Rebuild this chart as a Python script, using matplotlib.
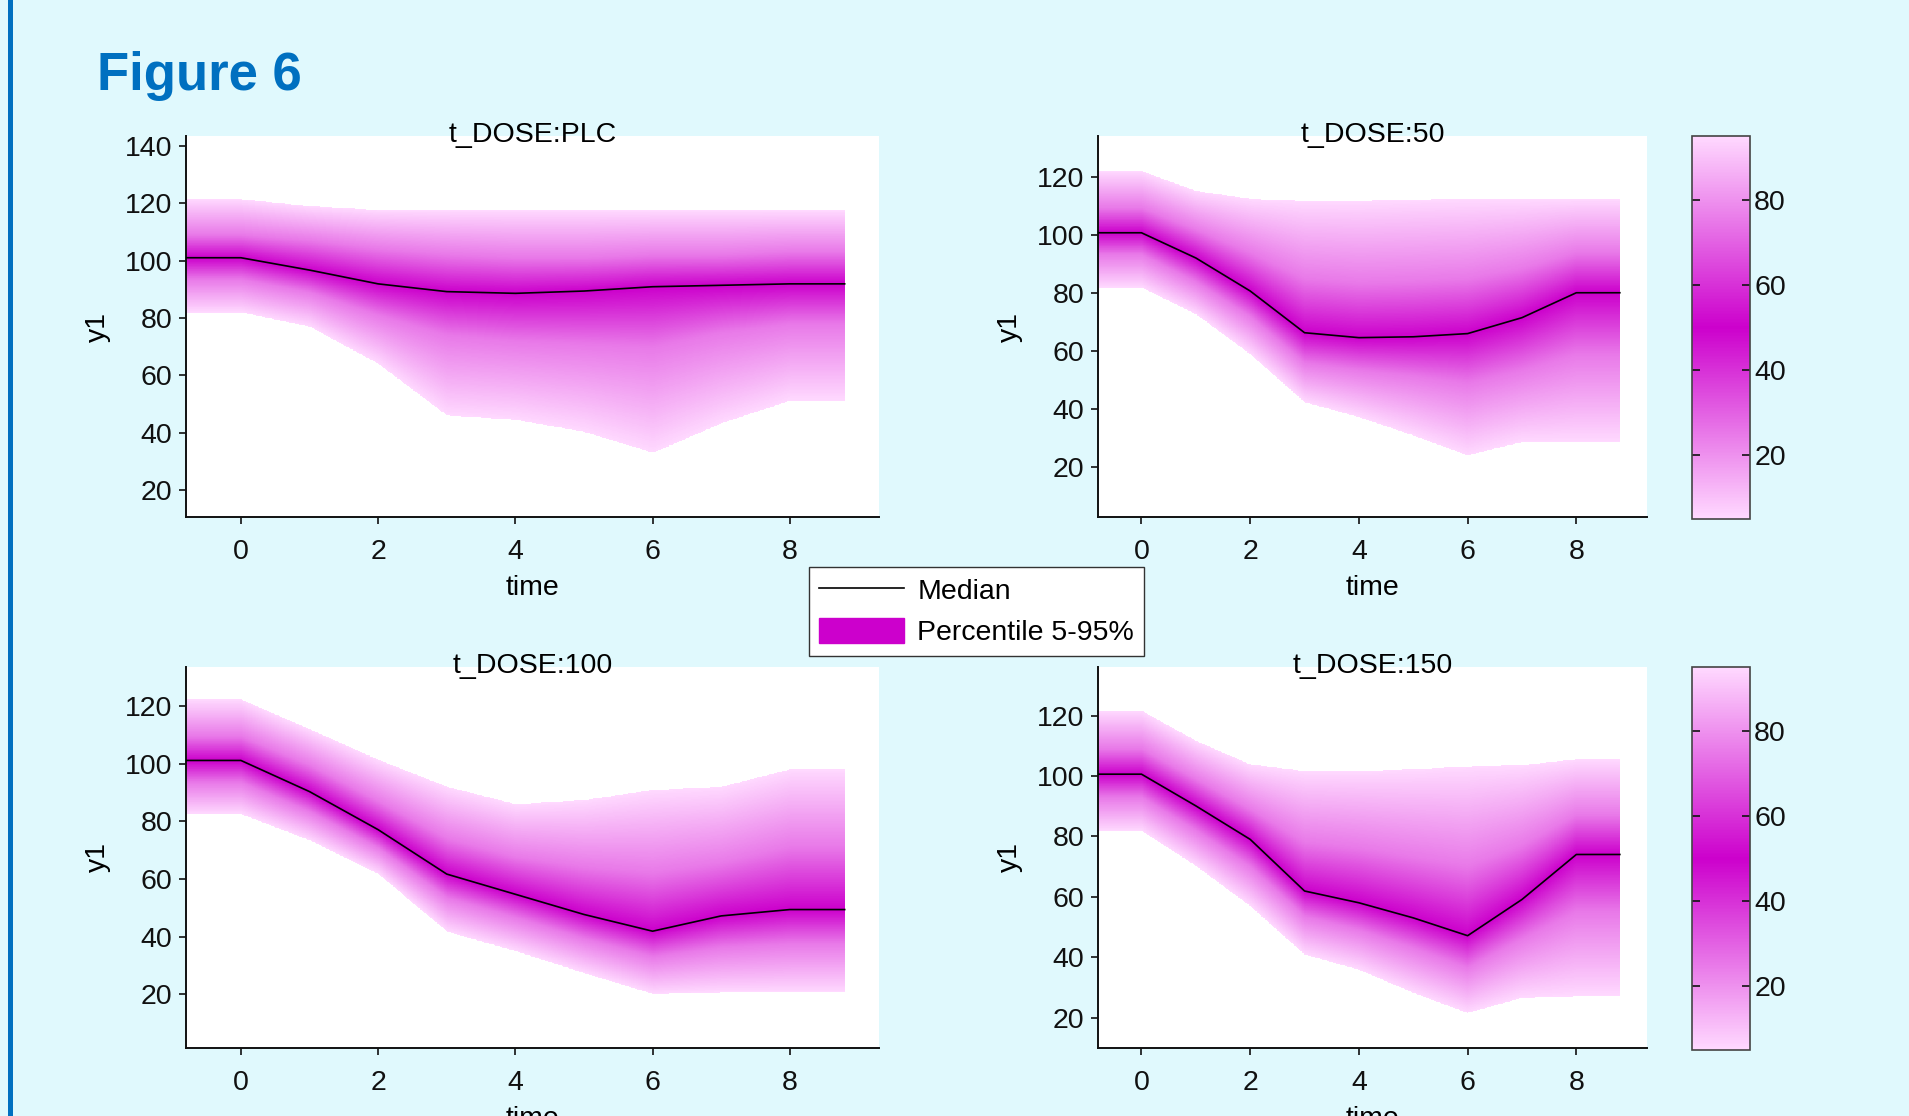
import numpy as np
import matplotlib
matplotlib.use('Agg')
import matplotlib.pyplot as plt
from matplotlib.colors import LinearSegmentedColormap, Normalize
from matplotlib.cm import ScalarMappable
from matplotlib.lines import Line2D
from matplotlib.patches import Patch

plt.rcParams['font.family'] = ['Liberation Sans', 'DejaVu Sans']

BG = '#E0F9FD'
BLUE = '#0070C0'
MAGENTA = '#CC00CC'
LIGHT = '#FFD9FF'
FS = 20.5

# percentile levels shown in the colour scale
levels = [5, 25, 50, 75, 95]
time = [-0.8, 0, 1, 2, 3, 4, 5, 6, 7, 8, 8.8]

titles = ['t_DOSE:PLC', 't_DOSE:50', 't_DOSE:100', 't_DOSE:150']

plc_p95 = [121.5, 121.5, 119.0, 117.7, 117.7, 117.7, 117.7, 117.7, 117.7, 117.7, 117.7]
plc_p75 = [109.0, 109.0, 107.0, 104.0, 102.0, 101.0, 101.0, 102.0, 102.0, 103.0, 103.0]
plc_p50 = [101.0, 101.0, 96.7, 91.9, 89.2, 88.6, 89.4, 90.9, 91.4, 91.9, 91.9]
plc_p25 = [93.5, 93.5, 89.0, 81.0, 74.0, 72.0, 71.0, 70.0, 75.0, 78.0, 78.0]
plc_p5 = [82.0, 82.0, 77.0, 64.0, 46.0, 44.5, 40.3, 33.0, 43.3, 51.2, 51.2]

d50_p95 = [122.3, 122.3, 115.4, 112.7, 112.0, 112.0, 112.5, 112.7, 112.7, 112.7, 112.7]
d50_p75 = [109.5, 109.5, 102.0, 94.0, 85.0, 83.5, 84.0, 85.0, 88.5, 94.0, 94.0]
d50_p50 = [100.9, 100.9, 92.2, 80.8, 66.4, 64.7, 65.0, 66.1, 71.6, 80.2, 80.2]
d50_p25 = [93.5, 93.5, 84.0, 72.0, 56.0, 53.5, 51.5, 49.0, 53.5, 59.0, 59.0]
d50_p5 = [82.0, 82.0, 72.8, 59.0, 42.4, 37.2, 30.9, 24.0, 28.6, 28.6, 28.6]

d100_p95 = [122.3, 122.3, 112.0, 101.4, 92.0, 86.0, 87.4, 90.9, 92.0, 98.1, 98.1]
d100_p75 = [109.5, 109.5, 99.5, 87.0, 74.0, 67.5, 64.0, 62.0, 65.5, 71.0, 71.0]
d100_p50 = [101.1, 101.1, 90.3, 77.1, 61.7, 54.7, 47.7, 41.9, 47.2, 49.4, 49.4]
d100_p25 = [93.5, 93.5, 83.4, 70.8, 53.5, 46.6, 39.3, 33.0, 36.3, 37.6, 37.6]
d100_p5 = [82.5, 82.5, 73.4, 61.7, 41.7, 34.9, 27.3, 20.0, 20.6, 20.6, 20.6]

d150_p95 = [121.7, 121.7, 111.7, 103.9, 101.7, 101.7, 102.3, 103.2, 103.6, 105.6, 105.6]
d150_p75 = [109.0, 109.0, 99.0, 89.0, 78.0, 76.0, 73.0, 70.0, 77.0, 87.0, 87.0]
d150_p50 = [100.6, 100.6, 90.1, 79.0, 61.9, 58.0, 53.0, 47.1, 59.1, 74.0, 74.0]
d150_p25 = [93.0, 93.0, 82.0, 70.0, 53.5, 49.0, 43.0, 36.5, 46.0, 55.0, 55.0]
d150_p5 = [81.8, 81.8, 70.2, 56.9, 40.8, 35.8, 28.1, 21.4, 26.4, 27.0, 27.0]

curves = [
    [plc_p5, plc_p25, plc_p50, plc_p75, plc_p95],
    [d50_p5, d50_p25, d50_p50, d50_p75, d50_p95],
    [d100_p5, d100_p25, d100_p50, d100_p75, d100_p95],
    [d150_p5, d150_p25, d150_p50, d150_p75, d150_p95],
]
ylims = [(10.7, 143.4), (2.8, 134.3), (1.4, 133.5), (9.9, 136.1)]
yticks = [range(20, 141, 20), range(20, 121, 20), range(20, 121, 20), range(20, 121, 20)]
XLIM = (-0.8, 9.3)

cmap = LinearSegmentedColormap.from_list('pct', [LIGHT, MAGENTA, LIGHT])
cmap.set_bad((1, 1, 1, 0))
norm = Normalize(vmin=5, vmax=95)


def draw_band(ax, crv, ylim):
    xs = np.linspace(XLIM[0], XLIM[1], 900)
    ys = np.linspace(ylim[0], ylim[1], 600)
    img = np.full((len(ys), len(xs)), np.nan)
    for j, x in enumerate(xs):
        if x < time[0] or x > time[-1]:
            continue
        q = [np.interp(x, time, c) for c in crv]
        inside = (ys >= q[0]) & (ys <= q[-1])
        img[inside, j] = np.interp(ys[inside], q, levels)
    ax.imshow(img, extent=(XLIM[0], XLIM[1], ylim[0], ylim[1]), origin='lower',
              aspect='auto', cmap=cmap, norm=norm, interpolation='nearest', zorder=1)


W, H = 1909, 1116
fig = plt.figure(figsize=(W / 100, H / 100), dpi=100, facecolor=BG)

# axes boxes in pixels: left, top, right, bottom
boxes = [(186, 136, 879, 517), (1098, 136, 1647, 517),
         (186, 667, 879, 1048), (1098, 667, 1647, 1048)]

for i, (l, t, r, b) in enumerate(boxes):
    ax = fig.add_axes([l / W, 1 - b / H, (r - l) / W, (b - t) / H])
    ax.set_facecolor('white')
    draw_band(ax, curves[i], ylims[i])
    ax.plot(time, curves[i][2], color='black', lw=1.2, zorder=3)
    ax.set_xlim(XLIM)
    ax.set_ylim(ylims[i])
    ax.set_xticks([0, 2, 4, 6, 8])
    ax.set_yticks(list(yticks[i]))
    for s in ['top', 'right']:
        ax.spines[s].set_visible(False)
    for s in ['left', 'bottom']:
        ax.spines[s].set_linewidth(1.4)
        ax.spines[s].set_color('#111111')
    ax.tick_params(axis='x', labelsize=FS, length=5, width=1.2, pad=11, colors='#111111')
    ax.tick_params(axis='y', labelsize=FS, length=5, width=1.2, pad=5, colors='#111111')
    ax.set_xlabel('time', fontsize=FS, labelpad=7)
    ax.set_ylabel('y1', fontsize=FS, labelpad=10)
    # title sits slightly inside the top of the plot area
    ax.set_title(titles[i], fontsize=FS, y=1.0, pad=-4)

# colour bars
for t, b in [(136, 519), (667, 1050)]:
    cax = fig.add_axes([1692 / W, 1 - b / H, 58 / W, (b - t) / H])
    cb = fig.colorbar(ScalarMappable(norm=norm, cmap=cmap), cax=cax, ticks=[20, 40, 60, 80])
    cb.outline.set_edgecolor('#444444')
    cb.outline.set_linewidth(1.2)
    cax.tick_params(direction='in', left=True, right=True, length=6, width=1.2,
                    labelsize=FS, pad=3, colors='#111111')

handles = [Line2D([], [], color='black', lw=1.2),
           Patch(facecolor=MAGENTA, edgecolor=MAGENTA)]
fig.legend(handles, ['Median', 'Percentile 5-95%'], loc='center',
           bbox_to_anchor=(976.5 / W, 1 - 611.5 / H), fontsize=FS, frameon=True,
           fancybox=False, edgecolor='#333333', framealpha=1, handlelength=3.0,
           handleheight=1.0, handletextpad=0.45, labelspacing=0.45, borderpad=0.35,
           borderaxespad=0)

fig.text(97 / W, 1 - 90 / H, 'Figure 6', fontsize=38, fontweight='bold',
         color=BLUE, va='baseline')
fig.add_artist(Line2D([10 / W, 10 / W], [0, 1], color=BLUE, lw=3.6,
                      transform=fig.transFigure))

fig.savefig('out.png', dpi=100, facecolor=BG)
